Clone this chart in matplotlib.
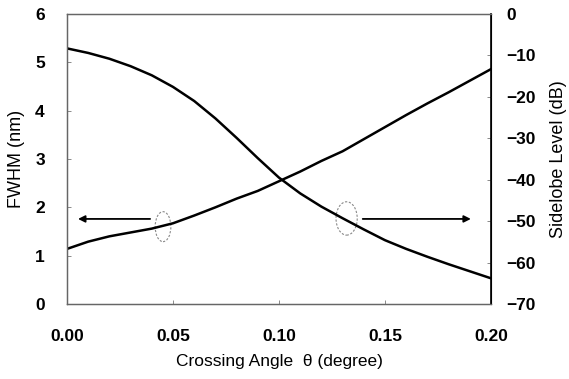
import matplotlib
matplotlib.use("Agg")
import matplotlib.pyplot as plt
from matplotlib.patches import Ellipse

angle = [0.00, 0.01, 0.02, 0.03, 0.04, 0.05, 0.06, 0.07, 0.08, 0.09, 0.10,
         0.11, 0.12, 0.13, 0.14, 0.15, 0.16, 0.17, 0.18, 0.19, 0.20]
fwhm = [1.14, 1.29, 1.40, 1.48, 1.56, 1.67, 1.83, 2.00, 2.18, 2.34, 2.54,
        2.74, 2.96, 3.16, 3.41, 3.66, 3.91, 4.15, 4.38, 4.62, 4.86]
sidelobe = [-8.3, -9.4, -10.8, -12.6, -14.8, -17.6, -21.0, -25.2, -29.9, -34.8, -39.5,
            -43.3, -46.5, -49.3, -52.0, -54.6, -56.7, -58.6, -60.4, -62.1, -63.8]

x_ticks = [0.00, 0.05, 0.10, 0.15, 0.20]
x_ticklabels = ["0.00", "0.05", "0.10", "0.15", "0.20"]
left_ticks = [0, 1, 2, 3, 4, 5, 6]
right_ticks = [0, -10, -20, -30, -40, -50, -60, -70]
right_ticklabels = ["0", "\u221210", "\u221220", "\u221230", "\u221240",
                    "\u221250", "\u221260", "\u221270"]

plt.rcParams['font.family'] = ['Liberation Sans', 'DejaVu Sans']

fig = plt.figure(figsize=(5.69, 3.79), dpi=100)
ax = fig.add_axes([67/569, 1 - 304/379, (491-67)/569, (304-14)/379])
ax2 = ax.twinx()

ax.plot(angle, fwhm, color='black', lw=1.8)
ax2.plot(angle, sidelobe, color='black', lw=1.8)

ax.set_xlim(0, 0.2)
ax.set_ylim(0, 6)
ax2.set_ylim(-70, 0)

ax.set_xticks(x_ticks)
ax.set_xticklabels(x_ticklabels)
ax.set_yticks(left_ticks)
ax2.set_yticks(right_ticks)
ax2.set_yticklabels(right_ticklabels)

for a in (ax, ax2):
    a.tick_params(direction='in', length=3, width=0.6, color='#777777',
                  labelsize=12.5)
    for lab in a.get_xticklabels() + a.get_yticklabels():
        lab.set_fontweight('bold')
ax.tick_params(axis='x', pad=18)
ax.tick_params(axis='y', pad=16)
ax2.tick_params(axis='y', pad=11)

for s in ('left', 'top', 'bottom'):
    for a in (ax, ax2):
        a.spines[s].set_color('#666666')
        a.spines[s].set_linewidth(0.9)
ax2.spines['right'].set_color('black')
ax2.spines['right'].set_linewidth(1.2)

ax.set_xlabel("Crossing Angle  \u03b8 (degree)", fontsize=12.5, labelpad=7)
ax.set_ylabel("FWHM (nm)", fontsize=13, labelpad=7)
ax2.set_ylabel("Sidelobe Level (dB)", fontsize=13, labelpad=10)

# arrows and ellipses (annotation)
ax.annotate("", xy=(0.0052, 1.76), xytext=(0.0392, 1.76),
            arrowprops=dict(arrowstyle='-|>', color='black', lw=1.3,
                            mutation_scale=10, shrinkA=0, shrinkB=0))
ax.annotate("", xy=(0.1905, 1.76), xytext=(0.1395, 1.76),
            arrowprops=dict(arrowstyle='-|>', color='black', lw=1.3,
                            mutation_scale=10, shrinkA=0, shrinkB=0))
ax.add_patch(Ellipse((0.0453, 1.60), 0.0074, 0.62, fill=False,
                     edgecolor='#888888', lw=0.8, ls=(0, (2, 1.5))))
ax.add_patch(Ellipse((0.1319, 1.77), 0.0100, 0.69, fill=False,
                     edgecolor='#888888', lw=0.8, ls=(0, (2, 1.5))))

fig.savefig("out.png", dpi=100)
